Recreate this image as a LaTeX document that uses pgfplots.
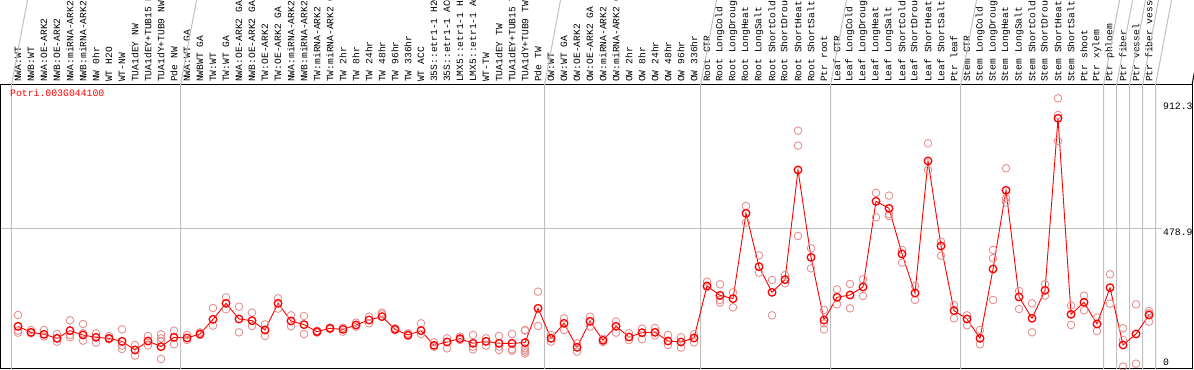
\documentclass[border=0pt]{standalone}
\usepackage{pgfplots}
\pgfplotsset{compat=1.18}
\usepackage{fontspec}
\setmainfont{Liberation Mono}
\definecolor{rep}{RGB}{232,145,145}
\definecolor{sep}{RGB}{192,192,192}
\begin{document}
\begin{tikzpicture}
\begin{axis}[
  scale only axis, width=1191pt, height=284pt,
  xmin=-1.30769, xmax=90.30769, ymin=0, ymax=968,
  axis line style={line width=1pt, black},
  xtick={0,...,87},
  xticklabels={NWA:WT,NWB:WT,NWA:OE-ARK2,NWB:OE-ARK2,NWA:miRNA-ARK2,NWB:miRNA-ARK2,NW 0hr,WT H2O,WT-NW,TUA1dEY NW,TUA1dEY+TUB15 NW,TUA1dY+TUB9 NW,Pde NW,NWA:WT GA,NWBWT GA,TW:WT,TW:WT GA,NWA:OE-ARK2 GA,NWB:OE-ARK2 GA,TW:OE-ARK2,TW:OE-ARK2 GA,NWA:miRNA-ARK2 GA,NWB:miRNA-ARK2 GA,TW:miRNA-ARK2,TW:miRNA-ARK2 GA,TW 2hr,TW 8hr,TW 24hr,TW 48hr,TW 96hr,TW 336hr,WT ACC,35S::etr1-1 H2O,35S::etr1-1 ACC,LMX5::etr1-1 H2O,LMX5::etr1-1 ACC,WT-TW,TUA1dEY TW,TUA1dEY+TUB15 TW,TUA1dY+TUB9 TW,Pde TW,OW:WT,OW:WT GA,OW:OE-ARK2,OW:OE-ARK2 GA,OW:miRNA-ARK2,OW:miRNA-ARK2 GA,OW 2hr,OW 8hr,OW 24hr,OW 48hr,OW 96hr,OW 336hr,Root CTR,Root LongCold,Root LongDrought,Root LongHeat,Root LongSalt,Root ShortCold,Root ShortDrought,Root ShortHeat,Root ShortSalt,Ptr root,Leaf CTR,Leaf LongCold,Leaf LongDrought,Leaf LongHeat,Leaf LongSalt,Leaf ShortCold,Leaf ShortDrought,Leaf ShortHeat,Leaf ShortSalt,Ptr leaf,Stem CTR,Stem LongCold,Stem LongDrought,Stem LongHeat,Stem LongSalt,Stem ShortCold,Stem ShortDrought,Stem ShortHeat,Stem ShortSalt,Ptr shoot,Ptr xylem,Ptr phloem,Ptr fiber,Ptr vessel,Ptr fiber vessel},
  xticklabel pos=upper,
  xticklabel style={rotate=90, anchor=west, inner xsep=3pt, inner ysep=0pt, font=\fontsize{9.6}{10}\selectfont},
  major tick length=0pt,
  ytick=\empty,
  clip=false,
]
\pgfplotsinvokeforeach{-0.5,12.5,40.5,52.5,62.5,72.5,83.5,84.5,85.5,86.5,87.5}{
  \draw[sep, line width=1pt] (axis cs:#1,0) -- (axis cs:#1,968) -- ++(0,90pt);
}
\draw[black, line width=1pt] (axis cs:90.30769,968) -- ++(0,90pt);
\draw[sep, line width=1pt] (axis cs:-1.30769,478.9) -- (axis cs:88.0,478.9);

\addplot[only marks, mark=o, mark size=3.8pt, rep, mark options={line width=0.9pt}] table {
x y
0 184.1
0 130.7
0 123.8
1 132.9
1 121.6
2 132.9
2 110.2
3 119.3
3 93.2
4 165.9
4 115.9
4 107.9
5 153.4
5 121.6
5 96.6
6 121.6
6 89.8
7 112.5
7 101.1
8 135.2
8 79.5
8 68.2
9 81.8
9 45.4
10 112.5
10 80.7
11 118.2
11 104.5
11 93.2
11 34.1
12 130.7
12 84.1
13 115.9
13 98.8
14 125.0
14 115.9
15 207.9
15 147.7
16 244.3
16 203.4
17 212.5
17 125.0
18 192.0
18 146.6
19 152.2
19 112.5
20 240.9
20 205.6
21 182.9
21 145.4
22 180.7
22 119.3
23 130.7
23 124.0
24 140.9
24 136.0
25 140.9
25 127.2
26 157.9
26 144.3
27 178.4
27 155.7
28 192.0
28 186.3
29 138.6
29 132.0
30 121.6
30 112.5
31 155.7
31 119.3
32 90.9
32 76.1
33 104.5
33 70.4
34 110.2
34 98.8
35 115.9
35 76.1
35 67.0
36 104.5
36 79.5
37 112.5
37 76.1
37 64.8
38 119.3
38 67.0
38 62.5
39 132.9
39 131.0
39 70.4
39 64.8
39 59.1
39 53.4
40 263.6
40 146.6
41 115.9
41 93.2
42 172.7
42 132.9
43 87.5
43 59.1
44 178.4
44 144.3
45 103.4
45 92.0
46 161.3
46 123.8
47 121.6
47 98.8
48 137.5
48 101.1
49 139.7
49 114.8
50 115.9
50 81.8
51 107.9
51 72.7
52 118.2
52 90.9
53 297.7
53 278.4
54 288.6
54 235.2
54 226.1
55 261.3
55 210.2
56 555.6
56 498.8
57 387.4
57 328.3
58 303.4
58 182.9
59 320.4
59 292.0
60 812.4
60 761.2
60 453.3
61 411.3
61 343.1
62 201.1
62 155.7
62 135.2
63 271.5
63 220.4
64 289.7
64 206.8
65 305.6
65 248.8
66 599.9
66 516.9
67 590.8
67 528.3
67 521.5
68 405.6
68 362.4
69 282.9
69 235.2
70 769.2
70 678.3
71 434.0
71 386.3
72 218.1
72 172.7
73 182.9
73 148.8
74 132.9
74 84.1
75 405.6
75 377.2
75 235.2
76 684.0
76 581.7
76 568.1
77 265.9
77 204.5
78 223.8
78 125.0
79 288.6
79 250.0
80 922.6
80 865.8
80 777.1
81 215.9
81 150.0
82 250.0
82 200.0
83 175.0
83 129.5
84 322.7
84 222.7
85 138.6
85 99.0
85 8.0
86 220.4
86 18.2
87 197.7
87 190.0
87 161.3
};

\addplot[red, line width=0.9pt, mark=o, mark size=3.8pt, mark options={line width=1.3pt}] table {
x y
0 145.4
1 125.0
2 118.2
3 104.5
4 130.7
5 115.9
6 107.9
7 104.5
8 94.3
9 64.8
10 95.4
11 76.1
12 107.9
13 105.7
14 119.3
15 169.3
16 223.8
17 170.4
18 164.7
19 132.9
20 223.8
21 163.6
22 151.1
23 127.2
24 138.6
25 135.2
26 150.0
27 167.0
28 178.4
29 135.2
30 115.9
31 130.7
32 80.7
33 92.0
34 103.4
35 87.5
36 94.3
37 87.5
38 87.5
39 89.8
40 206.8
41 104.5
42 155.7
43 73.9
44 162.5
45 97.7
46 145.4
47 109.1
48 123.8
49 125.0
50 95.4
51 92.0
52 105.7
53 282.9
54 251.1
55 239.7
56 530.6
57 348.8
58 261.3
59 304.5
60 678.3
61 380.6
62 167.0
63 244.3
64 252.2
65 279.5
66 571.5
67 547.6
68 392.0
69 259.0
70 709.0
71 419.2
72 198.8
73 170.4
74 104.5
75 340.9
76 609.0
77 245.4
78 172.7
79 268.1
80 854.4
81 186.3
82 227.2
83 153.4
84 277.2
85 81.8
86 119.3
87 184.1
};

\node[anchor=west, text=red, inner sep=0pt, font=\fontsize{9.8}{10}\selectfont] at (axis cs:-0.615,940) {Potri.003G044100};
\node[anchor=north west, inner sep=0pt, font=\fontsize{9.8}{10}\selectfont] at (axis cs:88.077,906.7) {912.3};
\node[anchor=north west, inner sep=0pt, font=\fontsize{9.8}{10}\selectfont] at (axis cs:88.077,478.9) {478.9};
\node[anchor=west, inner sep=0pt, font=\fontsize{9.8}{10}\selectfont] at (axis cs:88.077,24.5) {0};
\end{axis}
\pgfresetboundingbox
\path[use as bounding box] ([shift={(-1pt,-1pt)}]current axis.south west) rectangle ([shift={(2pt,85pt)}]current axis.north east);
\end{tikzpicture}
\end{document}
